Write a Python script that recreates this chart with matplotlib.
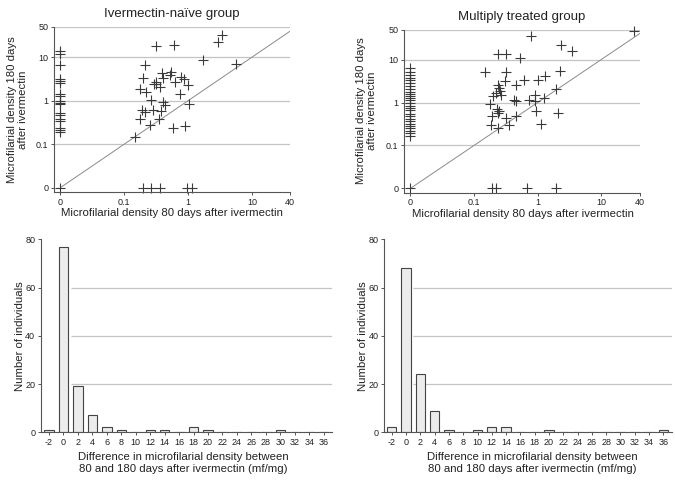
import matplotlib
matplotlib.use('Agg')
import matplotlib.pyplot as plt
import numpy as np

plt.rcParams['font.family'] = ['Liberation Sans', 'DejaVu Sans']
plt.rcParams['axes.unicode_minus'] = False

# ---- data ----
# Ivermectin-naive group: density at 80 days (x) and 180 days (y), mf/mg
naive_x80 = [0, 0, 0, 0, 0, 0, 0, 0, 0, 0, 0, 0, 0, 0, 0, 0, 0, 0, 0,
             0.15, 0.18, 0.19, 0.21, 0.28, 0.38, 0.35, 0.25, 0.58, 0.89,
             0.32, 0.61, 2.94, 3.36, 1.7, 5.6, 0.21, 0.20, 0.39, 0.41,
             0.31, 0.32, 0.36, 0.29, 0.55, 0.53, 0.63, 0.79, 0.87, 1.0,
             0.74, 0.18, 0.22, 0.26, 0.41, 0.44, 1.02,
             0.2, 0.26, 0.37, 0.95, 1.14]
naive_y180 = [13.9, 12.0, 6.8, 3.15, 2.8, 2.55, 1.45, 1.26, 0.98, 0.9, 0.82,
              0.52, 0.47, 0.38, 0.35, 0.24, 0.21, 0.19, 0,
              0.15, 0.37, 0.6, 0.55, 0.62, 0.57, 0.37, 0.28, 0.24, 0.26,
              17.7, 19.4, 22.4, 33, 8.8, 7.1, 6.8, 3.4, 4.4, 3.4,
              2.7, 2.4, 2.1, 2.45, 4.6, 4.0, 2.7, 3.5, 3.2, 2.3,
              1.45, 1.9, 1.6, 1.05, 0.92, 0.81, 0.85,
              0, 0, 0, 0, 0]

# Multiply treated group
multi_x80 = [0] * 28 + [
    0.80, 2.37, 3.5, 32.8, 0.235, 0.32, 0.52, 0.15, 0.32, 2.23,
    0.61, 1.02, 1.32, 0.31, 0.45, 0.235, 0.25, 0.26, 0.22, 0.2,
    0.27, 0.43, 0.46, 0.72, 0.9, 0.92, 1.27, 1.98, 0.176, 0.23,
    0.25, 0.235, 0.19, 0.32, 0.45, 0.94, 2.1, 0.185, 0.24, 0.35,
    1.13, 0.19, 0.22, 0.67, 1.93]
multi_y180 = [6.5, 5.2, 4.4, 3.7, 3.4, 2.8, 2.4, 2.06, 1.8, 1.58, 1.4, 1.28,
              1.17, 0.98, 0.85, 0.75, 0.66, 0.55, 0.49, 0.42, 0.37, 0.32,
              0.29, 0.25, 0.22, 0.19, 0.17, 0] + [
    35.8, 22, 16.2, 46.5, 13.5, 13.8, 10.6, 5.0, 5.2, 5.5,
    3.4, 3.3, 4.1, 3.1, 2.5, 2.5, 2.17, 1.9, 1.64, 1.42,
    1.5, 1.17, 1.07, 1.17, 1.5, 1.1, 1.28, 2.1, 0.93, 0.72,
    0.62, 0.57, 0.48, 0.44, 0.49, 0.62, 0.58, 0.3, 0.26, 0.3,
    0.32, 0, 0, 0, 0]

identity = [0, 40]
scatter_ticks_x = [0, 0.1, 1, 10, 40]
scatter_ticks_y = [0, 0.1, 1, 10, 50]

# histograms of the difference (180 days - 80 days)
diff_bins = list(range(-2, 37, 2))
naive_counts = [1, 77, 19, 7, 2, 1, 0, 1, 1, 0, 2, 1, 0, 0, 0, 0, 1, 0, 0, 0]
multi_counts = [2, 68, 24, 9, 1, 0, 1, 2, 2, 0, 0, 1, 0, 0, 0, 0, 0, 0, 0, 1]

DARK = '#3a3a3a'
GRID = '#c4c4c4'


# zero is drawn one decade below 0.1, like the original figure
def fwd(v):
    v = np.asarray(v, dtype=float)
    return np.log10(np.where(v <= 0, 0.01, v))


def inv(v):
    return 10 ** np.asarray(v, dtype=float)


def style_axes(ax):
    for s in ['top', 'right']:
        ax.spines[s].set_visible(False)
    for s in ['left', 'bottom']:
        ax.spines[s].set_color('#555555')
        ax.spines[s].set_linewidth(0.8)
    ax.tick_params(length=2.5, width=0.7, color='#555555', labelsize=6.5,
                   labelcolor='#222222', pad=1.5)


def scatter_panel(ax, x, y, title):
    ax.set_xscale('function', functions=(fwd, inv))
    ax.set_yscale('function', functions=(fwd, inv))
    for g in [0.1, 1, 10, 50]:
        ax.axhline(g, color=GRID, lw=0.9, zorder=0)
    ax.plot(identity, identity, color='#8a8a8a', lw=0.7, zorder=1)
    ax.plot(x, y, linestyle='none', marker='+', markersize=6.5,
            markeredgewidth=0.8, color=DARK, zorder=2, clip_on=False)
    ax.set_xticks(scatter_ticks_x)
    ax.set_xticklabels([f'{t:g}' for t in scatter_ticks_x])
    ax.set_yticks(scatter_ticks_y)
    ax.set_yticklabels([f'{t:g}' for t in scatter_ticks_y])
    ax.minorticks_off()
    # limits last: set_ticks would widen them to 0 otherwise
    ax.set_xlim(10 ** -2.1, 40)
    ax.set_ylim(10 ** -2.1, 50)
    style_axes(ax)
    ax.set_title(title, fontsize=9.5, color='#222222', pad=7)
    ax.set_xlabel('Microfilarial density 80 days after ivermectin',
                  fontsize=8.2, color='#222222')
    ax.set_ylabel('Microfilarial density 180 days\nafter ivermectin',
                  fontsize=8.2, color='#222222', linespacing=1.1)


def hist_panel(ax, bins, counts, xlim):
    ax.hlines([20, 40, 60], 1, xlim[1], color=GRID, lw=0.9, zorder=0)
    ax.bar(bins, counts, width=1.3, color='#ececec', edgecolor='#444444',
           linewidth=0.8, zorder=2)
    ax.set_xticks(bins)
    ax.set_yticks([0, 20, 40, 60, 80])
    ax.set_xlim(*xlim)
    ax.set_ylim(0, 80)
    style_axes(ax)
    ax.set_xlabel('Difference in microfilarial density between\n'
                  '80 and 180 days after ivermectin (mf/mg)',
                  fontsize=8.2, color='#222222', linespacing=1.3)
    ax.set_ylabel('Number of individuals', fontsize=8.2, color='#222222')


fig = plt.figure(figsize=(6.75, 4.8), dpi=100)

ax1 = fig.add_axes([0.080, 0.600, 0.350, 0.344])
scatter_panel(ax1, naive_x80, naive_y180, 'Ivermectin-naïve group')
ax1.xaxis.set_label_coords(0.50, -0.095)
ax1.yaxis.set_label_coords(-0.112, 0.50)

ax2 = fig.add_axes([0.5985, 0.5985, 0.349, 0.340])
scatter_panel(ax2, multi_x80, multi_y180, 'Multiply treated group')
ax2.xaxis.set_label_coords(0.503, -0.10)
ax2.yaxis.set_label_coords(-0.115, 0.50)

ax3 = fig.add_axes([0.0603, 0.0994, 0.431, 0.4017])
hist_panel(ax3, diff_bins, naive_counts, (-3.15, 37.1))
ax3.xaxis.set_label_coords(0.489, -0.10)
ax3.yaxis.set_label_coords(-0.055, 0.50)

ax4 = fig.add_axes([0.569, 0.0994, 0.426, 0.4017])
hist_panel(ax4, diff_bins, multi_counts, (-3.08, 37.17))
ax4.xaxis.set_label_coords(0.516, -0.10)
ax4.yaxis.set_label_coords(-0.057, 0.50)

plt.savefig('out.png', dpi=100, facecolor='white')
plt.close()
